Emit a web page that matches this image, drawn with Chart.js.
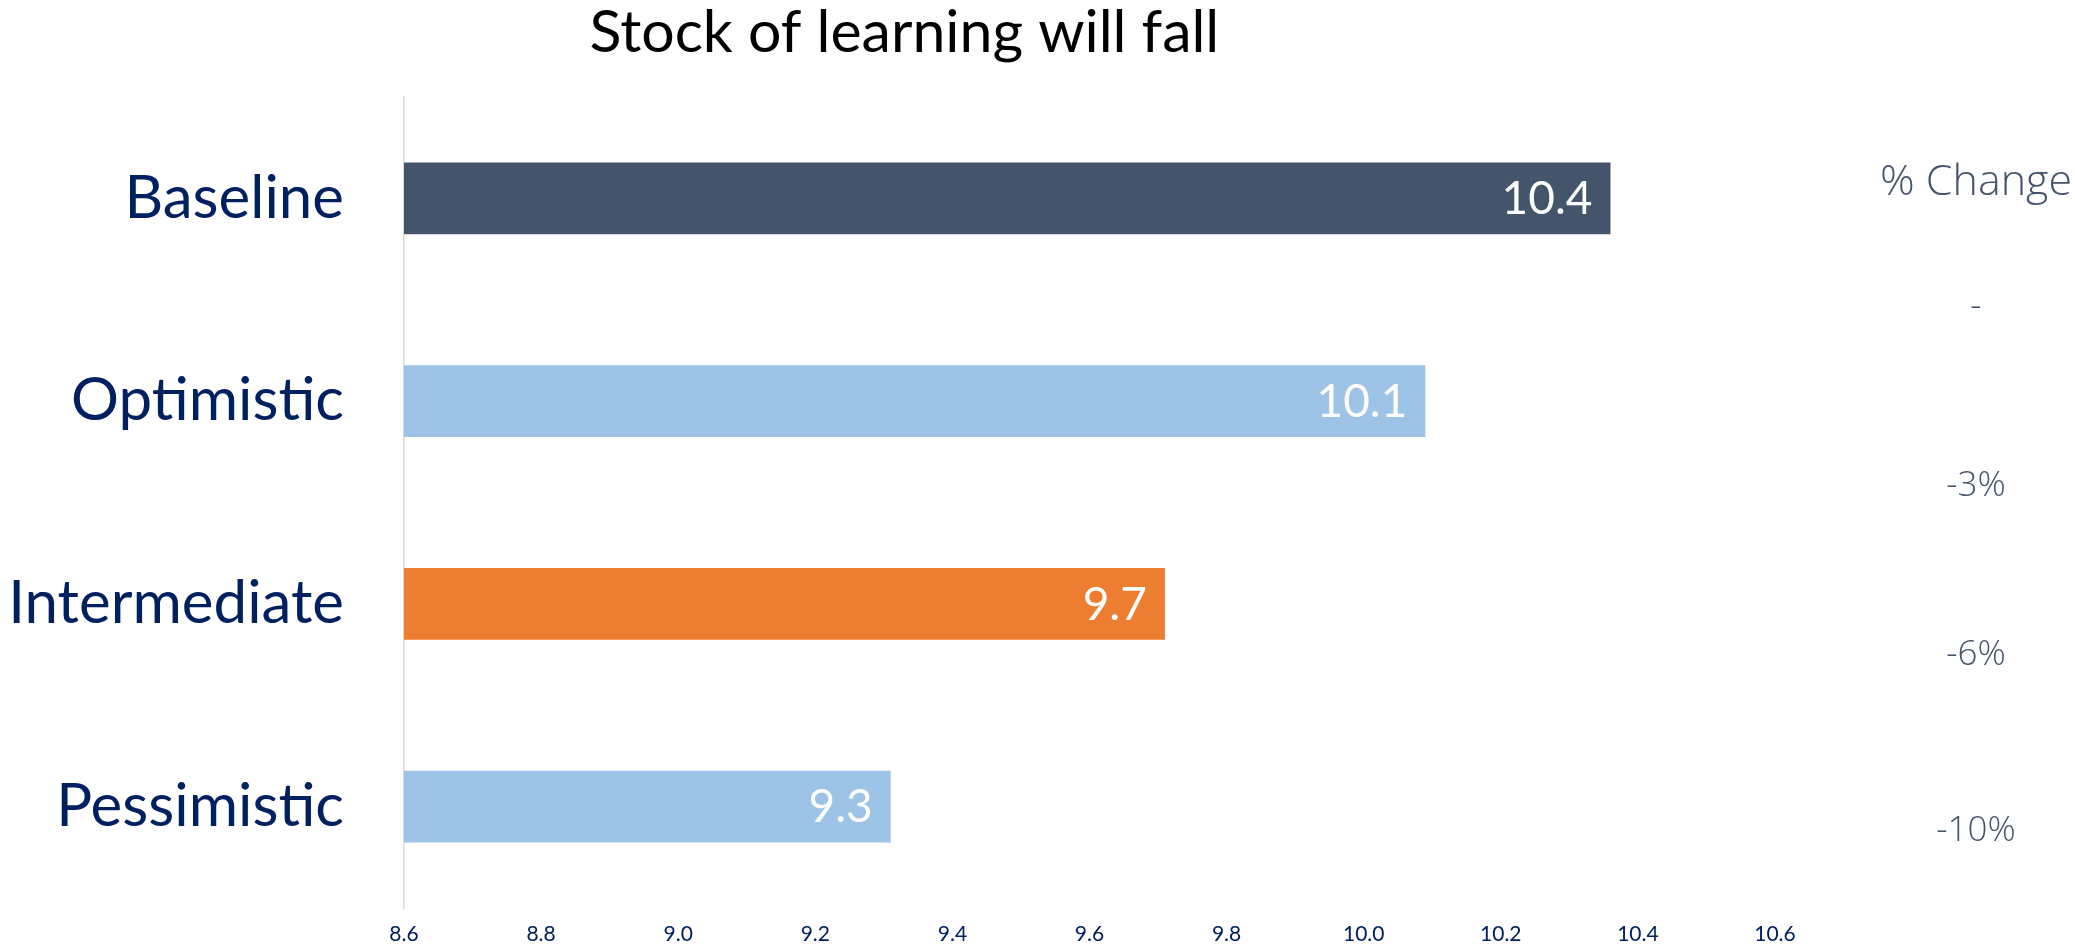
<!DOCTYPE html>
<html>
<head>
<meta charset="utf-8">
<script src="https://cdn.jsdelivr.net/npm/chart.js@4.4.1/dist/chart.umd.min.js"></script>
<style>
  html, body { margin: 0; padding: 0; background: #fff; }
</style>
</head>
<body>
<canvas id="c" width="2075" height="951"></canvas>
<script>
// data
const scenarios = ['Baseline', 'Optimistic', 'Intermediate', 'Pessimistic'];
const stock = [10.36, 10.09, 9.71, 9.31];
const pctChange = ['-', '-3%', '-6%', '-10%'];
const xTicks = [8.6, 8.8, 9.0, 9.2, 9.4, 9.6, 9.8, 10.0, 10.2, 10.4, 10.6];
const chartTitle = 'Stock of learning will fall';
const changeHeader = '% Change';

const barColors = ['#44546A', '#9DC3E6', '#ED7D31', '#9DC3E6'];
const navy = '#002060';
const slate = '#44546A';

// value label inside the end of each bar
const barLabels = {
  id: 'barLabels',
  afterDatasetsDraw(chart) {
    const { ctx } = chart;
    const meta = chart.getDatasetMeta(0);
    ctx.save();
    ctx.font = '46px Lato';
    ctx.fillStyle = '#fff';
    ctx.textAlign = 'right';
    ctx.textBaseline = 'middle';
    meta.data.forEach((bar, i) => {
      ctx.fillText(stock[i].toFixed(1), bar.x - 18, bar.y + 1);
    });
    ctx.restore();
  }
};

// title and the % change column on the right
const extras = {
  id: 'extras',
  afterDraw(chart) {
    const { ctx, chartArea: a } = chart;
    ctx.save();
    ctx.fillStyle = '#000';
    ctx.font = '59px Lato';
    ctx.textAlign = 'center';
    ctx.textBaseline = 'middle';
    ctx.fillText(chartTitle, a.left + a.width * 0.365, 33);

    const colX = a.right + 201;
    const rows = [0.259, 0.480, 0.688, 0.905];
    ctx.fillStyle = slate;
    ctx.font = '300 43px "Open Sans"';
    ctx.fillText(changeHeader, colX, a.top + a.height * 0.106);
    ctx.font = '300 35px "Open Sans"';
    pctChange.forEach((t, i) => {
      ctx.fillText(t, colX, a.top + a.height * rows[i]);
    });
    ctx.restore();
  }
};

new Chart(document.getElementById('c'), {
  type: 'bar',
  data: {
    labels: scenarios,
    datasets: [{
      data: stock,
      backgroundColor: barColors,
      borderWidth: 0,
      categoryPercentage: 1,
      barPercentage: 0.353
    }]
  },
  options: {
    indexAxis: 'y',
    responsive: false,
    animation: false,
    devicePixelRatio: 1,
    layout: { padding: { top: 97, right: 300, bottom: 0, left: 0 } },
    scales: {
      x: {
        min: 8.6,
        max: 10.6,
        afterBuildTicks: (s) => { s.ticks = xTicks.map(v => ({ value: v })); },
        afterFit: (s) => { s.height = 43; },
        grid: { display: false, drawTicks: false },
        border: { display: false },
        ticks: {
          padding: 14,
          color: navy,
          font: { family: 'Lato', size: 21 },
          callback: (v) => Number(v).toFixed(1)
        }
      },
      y: {
        afterFit: (s) => { s.width = 404; s.paddingTop = 0; s.paddingBottom = 0; },
        grid: { display: false, drawTicks: false },
        border: { display: true, color: '#D9D9D9', width: 1.5 },
        ticks: {
          padding: 60,
          color: navy,
          font: { family: 'Lato', size: 60 }
        }
      }
    },
    plugins: {
      legend: { display: false },
      tooltip: { enabled: false }
    }
  },
  plugins: [barLabels, extras]
});
</script>
</body>
</html>
